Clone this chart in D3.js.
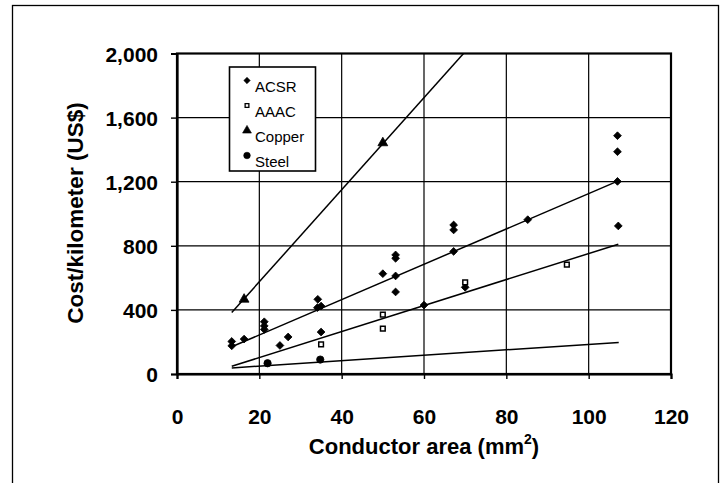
<!DOCTYPE html>
<html>
<head>
<meta charset="utf-8">
<script src="https://cdn.jsdelivr.net/npm/d3@7"></script>
<style>
  body { margin: 0; background: #fff; }
  svg { display: block; font-family: "Liberation Sans", Arial, sans-serif; }
</style>
</head>
<body>
<div id="chart"></div>
<script>
// series values (area mm2, cost US$/km)
var acsrX = [13.3, 13.3, 16.3, 21.2, 21.2, 21.2, 25, 27, 34.2, 34.1, 35, 35, 50, 53.1, 53.1, 53.1, 53.1, 60, 67.2, 67.2, 67.2, 70, 85.2, 107.2, 107, 107, 107];
var acsrY = [203, 176, 218, 326, 300, 278, 178, 231, 466, 414, 424, 262, 626, 743, 722, 612, 512, 430, 930, 899, 765, 541, 963, 924, 1487, 1387, 1202];
var aaacX = [35, 50, 50, 70, 94.7];
var aaacY = [185, 370, 283, 572, 682];
var copperX = [16.3, 50];
var copperY = [466, 1442];
var steelX = [22, 34.8];
var steelY = [67, 90];

// trend lines: [x0, y0, x1, y1]
var trendACSR = [13.3, 170, 107.2, 1205];
var trendAAAC = [13.3, 48, 107.2, 810];
var trendCopper = [13.3, 383, 69.6, 2000];
var trendSteel = [13.3, 38, 107.3, 197];

var xTicks = [0, 20, 40, 60, 80, 100, 120];
var yTicks = [0, 400, 800, 1200, 1600, 2000];
var legendNames = ["ACSR", "AAAC", "Copper", "Steel"];

var width = 721, height = 483;

var svg = d3.select("#chart").append("svg")
  .attr("width", width)
  .attr("height", height);

// outer frame
svg.append("rect")
  .attr("x", 12.5).attr("y", 5.5)
  .attr("width", 706).attr("height", 500)
  .attr("fill", "none").attr("stroke", "#000").attr("stroke-width", 1.3);

var x = d3.scaleLinear().domain([0, 120]).range([177, 671]);
var y = d3.scaleLinear().domain([0, 2000]).range([374, 53.5]);

// grid
svg.append("g").selectAll("line")
  .data(xTicks.filter(function(d){ return d > 0 && d < 120; }))
  .enter().append("line")
  .attr("x1", function(d){ return x(d); }).attr("x2", function(d){ return x(d); })
  .attr("y1", y(0)).attr("y2", y(2000))
  .attr("stroke", "#000").attr("stroke-width", 1.2);
svg.append("g").selectAll("line")
  .data(yTicks.filter(function(d){ return d > 0 && d < 2000; }))
  .enter().append("line")
  .attr("x1", x(0)).attr("x2", x(120))
  .attr("y1", function(d){ return y(d); }).attr("y2", function(d){ return y(d); })
  .attr("stroke", "#000").attr("stroke-width", 1.2);

// plot border
svg.append("rect")
  .attr("x", x(0)).attr("y", y(2000))
  .attr("width", x(120) - x(0)).attr("height", y(0) - y(2000))
  .attr("fill", "none").attr("stroke", "#000").attr("stroke-width", 2.2);

// axes
var xAxis = svg.append("g")
  .attr("transform", "translate(0," + y(0) + ")")
  .call(d3.axisBottom(x).tickValues(xTicks).tickSize(5).tickPadding(30).tickFormat(d3.format("d")));
var yAxis = svg.append("g")
  .attr("transform", "translate(" + x(0) + ",0)")
  .call(d3.axisLeft(y).tickValues(yTicks).tickSize(6).tickPadding(13).tickFormat(d3.format(",")));
[xAxis, yAxis].forEach(function(a){
  a.select(".domain").attr("stroke-width", 2.2);
  a.selectAll(".tick line").attr("stroke-width", 1.4);
  a.selectAll("text")
    .attr("font-family", "Liberation Sans, Arial, sans-serif")
    .attr("font-size", 21).attr("font-weight", "bold").attr("fill", "#000");
});
yAxis.selectAll("text").attr("dy", "0.36em");

// axis titles
var xt = svg.append("text")
  .attr("x", 424).attr("y", 454)
  .attr("text-anchor", "middle")
  .attr("font-size", 22).attr("font-weight", "bold");
xt.append("tspan").text("Conductor area (mm");
xt.append("tspan").attr("font-size", 14).attr("dy", -10).text("2");
xt.append("tspan").attr("dy", 10).text(")");

svg.append("text")
  .attr("transform", "translate(83,213) rotate(-90)")
  .attr("text-anchor", "middle")
  .attr("font-size", 22.5).attr("font-weight", "bold")
  .text("Cost/kilometer (US$)");

// trend lines
var trends = [trendCopper, trendACSR, trendAAAC, trendSteel];
svg.append("g").selectAll("line")
  .data(trends).enter().append("line")
  .attr("x1", function(d){ return x(d[0]); }).attr("y1", function(d){ return y(d[1]); })
  .attr("x2", function(d){ return x(d[2]); }).attr("y2", function(d){ return y(d[3]); })
  .attr("stroke", "#000").attr("stroke-width", 1.5);

// markers (diamond = square turned 45deg)
var diamond = d3.symbol().type(d3.symbolSquare).size(30);
var square = d3.symbol().type(d3.symbolSquare).size(22);
var tri = d3.symbol().type(d3.symbolTriangle).size(42);
var circ = d3.symbol().type(d3.symbolCircle).size(42);

function drawPoints(xs, ys, sym, hollow, rot) {
  svg.append("g").selectAll("path")
    .data(xs.map(function(v, i){ return [v, ys[i]]; }))
    .enter().append("path")
    .attr("d", sym)
    .attr("transform", function(d){ return "translate(" + x(d[0]) + "," + y(d[1]) + ") rotate(" + (rot || 0) + ")"; })
    .attr("fill", hollow ? "#fff" : "#000")
    .attr("stroke", "#000")
    .attr("stroke-width", hollow ? 1.5 : 0.8);
}
drawPoints(acsrX, acsrY, diamond, false, 45);
drawPoints(aaacX, aaacY, square, true);
drawPoints(copperX, copperY, tri, false);
drawPoints(steelX, steelY, circ, false);

// legend
var lg = svg.append("g");
lg.append("rect")
  .attr("x", 229.5).attr("y", 67)
  .attr("width", 86).attr("height", 104)
  .attr("fill", "#fff").attr("stroke", "#000").attr("stroke-width", 1.6);
var legSyms = [d3.symbol().type(d3.symbolSquare).size(20), d3.symbol().type(d3.symbolSquare).size(14),
  d3.symbol().type(d3.symbolTriangle).size(34), d3.symbol().type(d3.symbolCircle).size(34)];
legendNames.forEach(function(n, i){
  var cy = 80.5 + i * 25;
  lg.append("path").attr("d", legSyms[i])
    .attr("transform", "translate(247," + cy + ")" + (i === 0 ? " rotate(45)" : ""))
    .attr("fill", i === 1 ? "#fff" : "#000")
    .attr("stroke", "#000").attr("stroke-width", i === 1 ? 1.3 : 0.6);
  lg.append("text")
    .attr("x", 255).attr("y", cy + 11.5)
    .attr("font-size", 15)
    .text(n);
});
</script>
</body>
</html>
